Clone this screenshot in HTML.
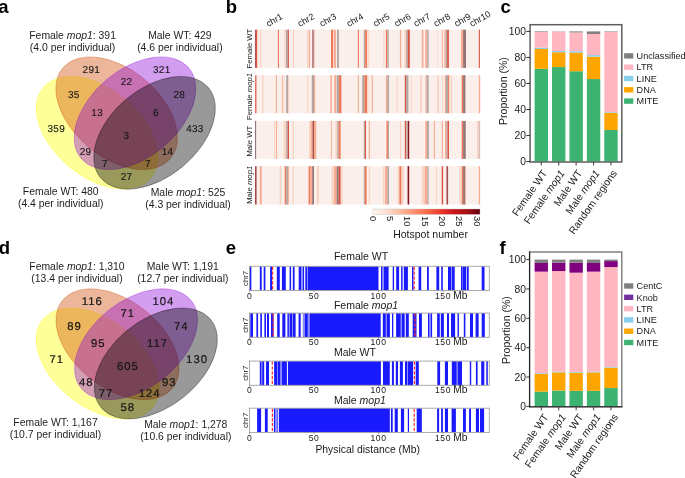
<!DOCTYPE html>
<html><head><meta charset="utf-8"><title>Figure</title>
<style>
html,body{margin:0;padding:0;background:#fff;width:685px;height:478px;overflow:hidden;}
svg{display:block;will-change:transform;font-family:"Liberation Sans",sans-serif;}
</style></head><body>
<svg width="685" height="478" viewBox="0 0 685 478">
<rect width="685" height="478" fill="#ffffff"/>
<g font-family='"Liberation Sans", sans-serif'>
<g transform="translate(28.70,210.90) scale(195.4,-195.3)">
<ellipse cx="0.35" cy="0.4" rx="0.36" ry="0.225" transform="rotate(140.0 0.35 0.4)" fill="#FFFF00" fill-opacity="0.4" stroke="#FFFF00" stroke-opacity="0.4" stroke-width="0.8" vector-effect="non-scaling-stroke"/>
<ellipse cx="0.45" cy="0.5" rx="0.36" ry="0.225" transform="rotate(140.0 0.45 0.5)" fill="#CD4800" fill-opacity="0.4" stroke="#CD4800" stroke-opacity="0.4" stroke-width="0.8" vector-effect="non-scaling-stroke"/>
<ellipse cx="0.544" cy="0.5" rx="0.36" ry="0.225" transform="rotate(40.0 0.544 0.5)" fill="#910AD9" fill-opacity="0.4" stroke="#910AD9" stroke-opacity="0.4" stroke-width="0.8" vector-effect="non-scaling-stroke"/>
<ellipse cx="0.644" cy="0.4" rx="0.36" ry="0.225" transform="rotate(40.0 0.644 0.4)" fill="#000000" fill-opacity="0.4" stroke="#000000" stroke-opacity="0.4" stroke-width="0.8" vector-effect="non-scaling-stroke"/>
</g>
<text x="91.38" y="72.98" font-size="10.0" text-anchor="middle" font-weight="normal" fill="#141414" letter-spacing="0.3" text-rendering="geometricPrecision" stroke="#141414" stroke-width="0.1">291</text>
<text x="161.72" y="72.98" font-size="10.0" text-anchor="middle" font-weight="normal" fill="#141414" letter-spacing="0.3" text-rendering="geometricPrecision" stroke="#141414" stroke-width="0.1">321</text>
<text x="126.55" y="84.70" font-size="10.0" text-anchor="middle" font-weight="normal" fill="#141414" letter-spacing="0.3" text-rendering="geometricPrecision" stroke="#141414" stroke-width="0.1">22</text>
<text x="73.79" y="98.37" font-size="10.0" text-anchor="middle" font-weight="normal" fill="#141414" letter-spacing="0.3" text-rendering="geometricPrecision" stroke="#141414" stroke-width="0.1">35</text>
<text x="179.31" y="98.37" font-size="10.0" text-anchor="middle" font-weight="normal" fill="#141414" letter-spacing="0.3" text-rendering="geometricPrecision" stroke="#141414" stroke-width="0.1">28</text>
<text x="97.24" y="115.95" font-size="10.0" text-anchor="middle" font-weight="normal" fill="#141414" letter-spacing="0.3" text-rendering="geometricPrecision" stroke="#141414" stroke-width="0.1">13</text>
<text x="155.86" y="115.95" font-size="10.0" text-anchor="middle" font-weight="normal" fill="#141414" letter-spacing="0.3" text-rendering="geometricPrecision" stroke="#141414" stroke-width="0.1">6</text>
<text x="56.21" y="131.57" font-size="10.0" text-anchor="middle" font-weight="normal" fill="#141414" letter-spacing="0.3" text-rendering="geometricPrecision" stroke="#141414" stroke-width="0.1">359</text>
<text x="194.94" y="131.57" font-size="10.0" text-anchor="middle" font-weight="normal" fill="#141414" letter-spacing="0.3" text-rendering="geometricPrecision" stroke="#141414" stroke-width="0.1">433</text>
<text x="126.55" y="139.39" font-size="10.0" text-anchor="middle" font-weight="normal" fill="#141414" letter-spacing="0.3" text-rendering="geometricPrecision" stroke="#141414" stroke-width="0.1">3</text>
<text x="85.52" y="155.01" font-size="10.0" text-anchor="middle" font-weight="normal" fill="#141414" letter-spacing="0.3" text-rendering="geometricPrecision" stroke="#141414" stroke-width="0.1">29</text>
<text x="167.58" y="155.01" font-size="10.0" text-anchor="middle" font-weight="normal" fill="#141414" letter-spacing="0.3" text-rendering="geometricPrecision" stroke="#141414" stroke-width="0.1">14</text>
<text x="105.06" y="166.73" font-size="10.0" text-anchor="middle" font-weight="normal" fill="#141414" letter-spacing="0.3" text-rendering="geometricPrecision" stroke="#141414" stroke-width="0.1">7</text>
<text x="148.04" y="166.73" font-size="10.0" text-anchor="middle" font-weight="normal" fill="#141414" letter-spacing="0.3" text-rendering="geometricPrecision" stroke="#141414" stroke-width="0.1">7</text>
<text x="126.55" y="180.40" font-size="10.0" text-anchor="middle" font-weight="normal" fill="#141414" letter-spacing="0.3" text-rendering="geometricPrecision" stroke="#141414" stroke-width="0.1">27</text>
<text x="72.60" y="39.30" font-size="10.4" text-anchor="middle" font-weight="normal" fill="#1e1e1e" >Female <tspan font-style="italic">mop1</tspan>: 391</text>
<text x="72.60" y="51.40" font-size="10.4" text-anchor="middle" font-weight="normal" fill="#1e1e1e" >(4.0 per individual)</text>
<text x="179.90" y="39.30" font-size="10.4" text-anchor="middle" font-weight="normal" fill="#1e1e1e" >Male WT: 429</text>
<text x="179.90" y="51.40" font-size="10.4" text-anchor="middle" font-weight="normal" fill="#1e1e1e" >(4.6 per individual)</text>
<text x="60.70" y="194.60" font-size="10.4" text-anchor="middle" font-weight="normal" fill="#1e1e1e" >Female WT: 480</text>
<text x="60.70" y="206.70" font-size="10.4" text-anchor="middle" font-weight="normal" fill="#1e1e1e" >(4.4 per individual)</text>
<text x="188.00" y="196.00" font-size="10.4" text-anchor="middle" font-weight="normal" fill="#1e1e1e" >Male <tspan font-style="italic">mop1</tspan>: 525</text>
<text x="188.00" y="208.10" font-size="10.4" text-anchor="middle" font-weight="normal" fill="#1e1e1e" >(4.3 per individual)</text>
<g transform="translate(28.50,440.30) scale(197.7,-192.1)">
<ellipse cx="0.35" cy="0.4" rx="0.36" ry="0.225" transform="rotate(140.0 0.35 0.4)" fill="#FFFF00" fill-opacity="0.4" stroke="#FFFF00" stroke-opacity="0.4" stroke-width="0.8" vector-effect="non-scaling-stroke"/>
<ellipse cx="0.45" cy="0.5" rx="0.36" ry="0.225" transform="rotate(140.0 0.45 0.5)" fill="#CD4800" fill-opacity="0.4" stroke="#CD4800" stroke-opacity="0.4" stroke-width="0.8" vector-effect="non-scaling-stroke"/>
<ellipse cx="0.544" cy="0.5" rx="0.36" ry="0.225" transform="rotate(40.0 0.544 0.5)" fill="#910AD9" fill-opacity="0.4" stroke="#910AD9" stroke-opacity="0.4" stroke-width="0.8" vector-effect="non-scaling-stroke"/>
<ellipse cx="0.644" cy="0.4" rx="0.36" ry="0.225" transform="rotate(40.0 0.644 0.4)" fill="#000000" fill-opacity="0.4" stroke="#000000" stroke-opacity="0.4" stroke-width="0.8" vector-effect="non-scaling-stroke"/>
</g>
<text x="92.26" y="305.14" font-size="11.3" text-anchor="middle" font-weight="normal" fill="#141414" letter-spacing="1.0" text-rendering="geometricPrecision" stroke="#141414" stroke-width="0.2">116</text>
<text x="163.44" y="305.14" font-size="11.3" text-anchor="middle" font-weight="normal" fill="#141414" letter-spacing="1.0" text-rendering="geometricPrecision" stroke="#141414" stroke-width="0.2">104</text>
<text x="127.85" y="316.66" font-size="11.3" text-anchor="middle" font-weight="normal" fill="#141414" letter-spacing="1.0" text-rendering="geometricPrecision" stroke="#141414" stroke-width="0.2">71</text>
<text x="74.47" y="330.11" font-size="11.3" text-anchor="middle" font-weight="normal" fill="#141414" letter-spacing="1.0" text-rendering="geometricPrecision" stroke="#141414" stroke-width="0.2">89</text>
<text x="181.23" y="330.11" font-size="11.3" text-anchor="middle" font-weight="normal" fill="#141414" letter-spacing="1.0" text-rendering="geometricPrecision" stroke="#141414" stroke-width="0.2">74</text>
<text x="98.19" y="347.40" font-size="11.3" text-anchor="middle" font-weight="normal" fill="#141414" letter-spacing="1.0" text-rendering="geometricPrecision" stroke="#141414" stroke-width="0.2">95</text>
<text x="157.50" y="347.40" font-size="11.3" text-anchor="middle" font-weight="normal" fill="#141414" letter-spacing="1.0" text-rendering="geometricPrecision" stroke="#141414" stroke-width="0.2">117</text>
<text x="56.68" y="362.77" font-size="11.3" text-anchor="middle" font-weight="normal" fill="#141414" letter-spacing="1.0" text-rendering="geometricPrecision" stroke="#141414" stroke-width="0.2">71</text>
<text x="197.04" y="362.77" font-size="11.3" text-anchor="middle" font-weight="normal" fill="#141414" letter-spacing="1.0" text-rendering="geometricPrecision" stroke="#141414" stroke-width="0.2">130</text>
<text x="127.85" y="370.45" font-size="11.3" text-anchor="middle" font-weight="normal" fill="#141414" letter-spacing="1.0" text-rendering="geometricPrecision" stroke="#141414" stroke-width="0.2">605</text>
<text x="86.33" y="385.82" font-size="11.3" text-anchor="middle" font-weight="normal" fill="#141414" letter-spacing="1.0" text-rendering="geometricPrecision" stroke="#141414" stroke-width="0.2">48</text>
<text x="169.37" y="385.82" font-size="11.3" text-anchor="middle" font-weight="normal" fill="#141414" letter-spacing="1.0" text-rendering="geometricPrecision" stroke="#141414" stroke-width="0.2">93</text>
<text x="106.10" y="397.35" font-size="11.3" text-anchor="middle" font-weight="normal" fill="#141414" letter-spacing="1.0" text-rendering="geometricPrecision" stroke="#141414" stroke-width="0.2">77</text>
<text x="149.60" y="397.35" font-size="11.3" text-anchor="middle" font-weight="normal" fill="#141414" letter-spacing="1.0" text-rendering="geometricPrecision" stroke="#141414" stroke-width="0.2">124</text>
<text x="127.85" y="410.79" font-size="11.3" text-anchor="middle" font-weight="normal" fill="#141414" letter-spacing="1.0" text-rendering="geometricPrecision" stroke="#141414" stroke-width="0.2">58</text>
<text x="77.00" y="269.60" font-size="10.4" text-anchor="middle" font-weight="normal" fill="#1e1e1e" >Female <tspan font-style="italic">mop1</tspan>: 1,310</text>
<text x="77.00" y="281.70" font-size="10.4" text-anchor="middle" font-weight="normal" fill="#1e1e1e" >(13.4 per individual)</text>
<text x="182.80" y="269.50" font-size="10.4" text-anchor="middle" font-weight="normal" fill="#1e1e1e" >Male WT: 1,191</text>
<text x="182.80" y="281.60" font-size="10.4" text-anchor="middle" font-weight="normal" fill="#1e1e1e" >(12.7 per individual)</text>
<text x="55.50" y="426.10" font-size="10.4" text-anchor="middle" font-weight="normal" fill="#1e1e1e" >Female WT: 1,167</text>
<text x="55.50" y="438.20" font-size="10.4" text-anchor="middle" font-weight="normal" fill="#1e1e1e" >(10.7 per individual)</text>
<text x="185.80" y="427.80" font-size="10.4" text-anchor="middle" font-weight="normal" fill="#1e1e1e" >Male <tspan font-style="italic">mop1</tspan>: 1,278</text>
<text x="185.80" y="439.90" font-size="10.4" text-anchor="middle" font-weight="normal" fill="#1e1e1e" >(10.6 per individual)</text>
<rect x="255.0" y="29.7" width="225.10" height="38.20" fill="#FAEFEA"/>
<rect x="255.1" y="29.7" width="0.90" height="38.20" fill="#A8484A"/>
<rect x="256" y="29.7" width="1.00" height="38.20" fill="#DA5446"/>
<rect x="257" y="29.7" width="1.30" height="38.20" fill="#F9D3C3"/>
<rect x="260.1" y="29.7" width="1.30" height="38.20" fill="#F9D3C3"/>
<rect x="277.9" y="29.7" width="1.10" height="38.20" fill="#EF7859"/>
<rect x="284.4" y="29.7" width="1.60" height="38.20" fill="#F9D3C3"/>
<rect x="286" y="29.7" width="1.80" height="38.20" fill="#B3A5A1"/>
<rect x="287.8" y="29.7" width="1.10" height="38.20" fill="#DA5446"/>
<rect x="292.9" y="29.7" width="1.20" height="38.20" fill="#F9D3C3"/>
<rect x="306.9" y="29.7" width="0.90" height="38.20" fill="#F9D3C3"/>
<rect x="308.7" y="29.7" width="1.30" height="38.20" fill="#F7AC92"/>
<rect x="312.2" y="29.7" width="1.30" height="38.20" fill="#957575"/>
<rect x="313.5" y="29.7" width="0.70" height="38.20" fill="#DA5446"/>
<rect x="331" y="29.7" width="2.00" height="38.20" fill="#EF7859"/>
<rect x="333.7" y="29.7" width="2.20" height="38.20" fill="#F7AC92"/>
<rect x="337" y="29.7" width="1.90" height="38.20" fill="#B3A5A1"/>
<rect x="357.8" y="29.7" width="1.10" height="38.20" fill="#EF7859"/>
<rect x="363.8" y="29.7" width="1.40" height="38.20" fill="#B3A5A1"/>
<rect x="365.2" y="29.7" width="1.90" height="38.20" fill="#EF7859"/>
<rect x="367.7" y="29.7" width="1.10" height="38.20" fill="#F9D3C3"/>
<rect x="383.5" y="29.7" width="0.90" height="38.20" fill="#F9D3C3"/>
<rect x="385.9" y="29.7" width="1.40" height="38.20" fill="#EF7859"/>
<rect x="387.3" y="29.7" width="1.40" height="38.20" fill="#B3A5A1"/>
<rect x="399.9" y="29.7" width="1.30" height="38.20" fill="#F7AC92"/>
<rect x="404.3" y="29.7" width="1.90" height="38.20" fill="#F9D3C3"/>
<rect x="406.2" y="29.7" width="1.60" height="38.20" fill="#B3A5A1"/>
<rect x="407.8" y="29.7" width="2.00" height="38.20" fill="#DA5446"/>
<rect x="421.8" y="29.7" width="1.60" height="38.20" fill="#F7AC92"/>
<rect x="425.3" y="29.7" width="2.00" height="38.20" fill="#F7AC92"/>
<rect x="427.3" y="29.7" width="1.30" height="38.20" fill="#B3A5A1"/>
<rect x="437" y="29.7" width="0.60" height="38.20" fill="#F9D3C3"/>
<rect x="441.9" y="29.7" width="0.90" height="38.20" fill="#F7AC92"/>
<rect x="444.4" y="29.7" width="1.30" height="38.20" fill="#F7AC92"/>
<rect x="445.7" y="29.7" width="1.40" height="38.20" fill="#B3A5A1"/>
<rect x="447.1" y="29.7" width="1.80" height="38.20" fill="#DA5446"/>
<rect x="461" y="29.7" width="2.10" height="38.20" fill="#F7AC92"/>
<rect x="463.1" y="29.7" width="2.90" height="38.20" fill="#957575"/>
<rect x="478.8" y="29.7" width="1.10" height="38.20" fill="#DA5446"/>
<rect x="255.0" y="75.2" width="225.10" height="38.00" fill="#FAEFEA"/>
<rect x="255.2" y="75.2" width="1.20" height="38.00" fill="#DA5446"/>
<rect x="262.1" y="75.2" width="1.40" height="38.00" fill="#F9D3C3"/>
<rect x="275.9" y="75.2" width="1.10" height="38.00" fill="#F7AC92"/>
<rect x="281.9" y="75.2" width="0.90" height="38.00" fill="#F7AC92"/>
<rect x="283.7" y="75.2" width="0.70" height="38.00" fill="#F9D3C3"/>
<rect x="286.2" y="75.2" width="2.10" height="38.00" fill="#B3A5A1"/>
<rect x="288.3" y="75.2" width="0.70" height="38.00" fill="#F9D3C3"/>
<rect x="307.2" y="75.2" width="1.10" height="38.00" fill="#F9D3C3"/>
<rect x="311.8" y="75.2" width="2.20" height="38.00" fill="#B3A5A1"/>
<rect x="314" y="75.2" width="1.10" height="38.00" fill="#F7AC92"/>
<rect x="330.4" y="75.2" width="1.50" height="38.00" fill="#F7AC92"/>
<rect x="334.3" y="75.2" width="1.90" height="38.00" fill="#F7AC92"/>
<rect x="336.7" y="75.2" width="2.20" height="38.00" fill="#B3A5A1"/>
<rect x="338.9" y="75.2" width="2.50" height="38.00" fill="#EF7859"/>
<rect x="357.8" y="75.2" width="1.10" height="38.00" fill="#F7AC92"/>
<rect x="362.2" y="75.2" width="2.20" height="38.00" fill="#B3A5A1"/>
<rect x="364.4" y="75.2" width="2.70" height="38.00" fill="#EF7859"/>
<rect x="367.1" y="75.2" width="1.40" height="38.00" fill="#F9D3C3"/>
<rect x="371.7" y="75.2" width="1.10" height="38.00" fill="#F7AC92"/>
<rect x="385.9" y="75.2" width="1.40" height="38.00" fill="#F7AC92"/>
<rect x="387.3" y="75.2" width="1.70" height="38.00" fill="#B3A5A1"/>
<rect x="396.6" y="75.2" width="1.10" height="38.00" fill="#F9D3C3"/>
<rect x="404.8" y="75.2" width="1.40" height="38.00" fill="#DA5446"/>
<rect x="406.2" y="75.2" width="2.20" height="38.00" fill="#B3A5A1"/>
<rect x="410.8" y="75.2" width="0.90" height="38.00" fill="#F9D3C3"/>
<rect x="420.2" y="75.2" width="1.60" height="38.00" fill="#F9D3C3"/>
<rect x="425.6" y="75.2" width="1.10" height="38.00" fill="#F7AC92"/>
<rect x="426.7" y="75.2" width="1.90" height="38.00" fill="#B3A5A1"/>
<rect x="437.1" y="75.2" width="1.70" height="38.00" fill="#F9D3C3"/>
<rect x="442" y="75.2" width="0.90" height="38.00" fill="#F9D3C3"/>
<rect x="444.8" y="75.2" width="1.10" height="38.00" fill="#F7AC92"/>
<rect x="445.9" y="75.2" width="2.20" height="38.00" fill="#B3A5A1"/>
<rect x="448.1" y="75.2" width="1.10" height="38.00" fill="#EF7859"/>
<rect x="450.7" y="75.2" width="1.40" height="38.00" fill="#F9D3C3"/>
<rect x="461.7" y="75.2" width="1.40" height="38.00" fill="#EF7859"/>
<rect x="463.1" y="75.2" width="2.30" height="38.00" fill="#957575"/>
<rect x="478.8" y="75.2" width="1.40" height="38.00" fill="#F7AC92"/>
<rect x="255.0" y="120.9" width="225.10" height="38.00" fill="#FAEFEA"/>
<rect x="255" y="120.9" width="1.10" height="38.00" fill="#957575"/>
<rect x="274.1" y="120.9" width="0.90" height="38.00" fill="#F9D3C3"/>
<rect x="275.9" y="120.9" width="1.10" height="38.00" fill="#F7AC92"/>
<rect x="283.7" y="120.9" width="2.50" height="38.00" fill="#F9D3C3"/>
<rect x="286.2" y="120.9" width="1.50" height="38.00" fill="#B3A5A1"/>
<rect x="287.7" y="120.9" width="1.30" height="38.00" fill="#DA5446"/>
<rect x="292.5" y="120.9" width="1.40" height="38.00" fill="#F9D3C3"/>
<rect x="309" y="120.9" width="1.90" height="38.00" fill="#F9D3C3"/>
<rect x="310.9" y="120.9" width="1.70" height="38.00" fill="#F7AC92"/>
<rect x="312.6" y="120.9" width="1.40" height="38.00" fill="#A8484A"/>
<rect x="314" y="120.9" width="2.20" height="38.00" fill="#F7AC92"/>
<rect x="331" y="120.9" width="0.90" height="38.00" fill="#F7AC92"/>
<rect x="335.4" y="120.9" width="1.90" height="38.00" fill="#F9D3C3"/>
<rect x="337.3" y="120.9" width="1.40" height="38.00" fill="#B3A5A1"/>
<rect x="338.7" y="120.9" width="1.90" height="38.00" fill="#EF7859"/>
<rect x="363.8" y="120.9" width="1.10" height="38.00" fill="#B3A5A1"/>
<rect x="364.9" y="120.9" width="1.10" height="38.00" fill="#DA5446"/>
<rect x="368.8" y="120.9" width="1.10" height="38.00" fill="#F7AC92"/>
<rect x="386.5" y="120.9" width="1.40" height="38.00" fill="#EF7859"/>
<rect x="387.9" y="120.9" width="1.10" height="38.00" fill="#B3A5A1"/>
<rect x="399.9" y="120.9" width="1.30" height="38.00" fill="#F9D3C3"/>
<rect x="404.8" y="120.9" width="1.40" height="38.00" fill="#DA5446"/>
<rect x="406.2" y="120.9" width="1.60" height="38.00" fill="#C8B4AE"/>
<rect x="407.8" y="120.9" width="1.40" height="38.00" fill="#861222"/>
<rect x="425.3" y="120.9" width="1.70" height="38.00" fill="#F7AC92"/>
<rect x="427" y="120.9" width="1.90" height="38.00" fill="#B3A5A1"/>
<rect x="433.8" y="120.9" width="1.10" height="38.00" fill="#F7AC92"/>
<rect x="441.7" y="120.9" width="1.20" height="38.00" fill="#F7AC92"/>
<rect x="445" y="120.9" width="1.40" height="38.00" fill="#F7AC92"/>
<rect x="446.4" y="120.9" width="1.10" height="38.00" fill="#B3A5A1"/>
<rect x="447.5" y="120.9" width="1.50" height="38.00" fill="#DA5446"/>
<rect x="461.7" y="120.9" width="1.40" height="38.00" fill="#EF7859"/>
<rect x="463.1" y="120.9" width="2.60" height="38.00" fill="#957575"/>
<rect x="476.9" y="120.9" width="2.30" height="38.00" fill="#F9D3C3"/>
<rect x="479.2" y="120.9" width="0.90" height="38.00" fill="#C8B4AE"/>
<rect x="255.0" y="166.2" width="225.10" height="38.30" fill="#FAEFEA"/>
<rect x="255" y="166.2" width="1.60" height="38.30" fill="#A8484A"/>
<rect x="259.8" y="166.2" width="1.90" height="38.30" fill="#F7AC92"/>
<rect x="279.6" y="166.2" width="1.80" height="38.30" fill="#F9D3C3"/>
<rect x="284.7" y="166.2" width="1.50" height="38.30" fill="#EF7859"/>
<rect x="286.2" y="166.2" width="1.90" height="38.30" fill="#B3A5A1"/>
<rect x="288.1" y="166.2" width="0.90" height="38.30" fill="#F7AC92"/>
<rect x="292.5" y="166.2" width="1.40" height="38.30" fill="#F9D3C3"/>
<rect x="308.6" y="166.2" width="1.60" height="38.30" fill="#EF7859"/>
<rect x="310.2" y="166.2" width="2.00" height="38.30" fill="#F7AC92"/>
<rect x="312.2" y="166.2" width="1.80" height="38.30" fill="#957575"/>
<rect x="316.8" y="166.2" width="2.20" height="38.30" fill="#F9D3C3"/>
<rect x="331.5" y="166.2" width="1.70" height="38.30" fill="#F9D3C3"/>
<rect x="333.7" y="166.2" width="3.00" height="38.30" fill="#F7AC92"/>
<rect x="336.7" y="166.2" width="2.00" height="38.30" fill="#957575"/>
<rect x="338.7" y="166.2" width="1.90" height="38.30" fill="#DA5446"/>
<rect x="341.4" y="166.2" width="1.40" height="38.30" fill="#F9D3C3"/>
<rect x="363.8" y="166.2" width="1.10" height="38.30" fill="#B3A5A1"/>
<rect x="364.9" y="166.2" width="1.70" height="38.30" fill="#EF7859"/>
<rect x="368.8" y="166.2" width="1.10" height="38.30" fill="#F9D3C3"/>
<rect x="382.9" y="166.2" width="1.10" height="38.30" fill="#F9D3C3"/>
<rect x="384.8" y="166.2" width="2.50" height="38.30" fill="#F7AC92"/>
<rect x="387.3" y="166.2" width="1.70" height="38.30" fill="#B3A5A1"/>
<rect x="397.7" y="166.2" width="1.70" height="38.30" fill="#F9D3C3"/>
<rect x="399.4" y="166.2" width="2.10" height="38.30" fill="#EF7859"/>
<rect x="401.5" y="166.2" width="2.20" height="38.30" fill="#F9D3C3"/>
<rect x="407.6" y="166.2" width="1.60" height="38.30" fill="#861222"/>
<rect x="421.8" y="166.2" width="2.20" height="38.30" fill="#F9D3C3"/>
<rect x="424.5" y="166.2" width="2.80" height="38.30" fill="#F7AC92"/>
<rect x="427.3" y="166.2" width="1.30" height="38.30" fill="#B3A5A1"/>
<rect x="436" y="166.2" width="1.10" height="38.30" fill="#F9D3C3"/>
<rect x="441.7" y="166.2" width="1.40" height="38.30" fill="#DA5446"/>
<rect x="446.1" y="166.2" width="0.60" height="38.30" fill="#B3A5A1"/>
<rect x="446.7" y="166.2" width="1.40" height="38.30" fill="#A8484A"/>
<rect x="459.4" y="166.2" width="1.40" height="38.30" fill="#F9D3C3"/>
<rect x="461.7" y="166.2" width="1.40" height="38.30" fill="#EF7859"/>
<rect x="463.1" y="166.2" width="2.10" height="38.30" fill="#957575"/>
<rect x="465.2" y="166.2" width="0.80" height="38.30" fill="#F7AC92"/>
<rect x="478.8" y="166.2" width="1.30" height="38.30" fill="#F7AC92"/>
<text transform="translate(252.2,48.55) rotate(-90)" font-size="7.7" text-anchor="middle" fill="#1a1a1a">Female WT</text>
<text transform="translate(252.2,96.50) rotate(-90)" font-size="7.7" text-anchor="middle" fill="#1a1a1a">Female <tspan font-style="italic">mop1</tspan></text>
<text transform="translate(252.2,141.20) rotate(-90)" font-size="7.7" text-anchor="middle" fill="#1a1a1a">Male WT</text>
<text transform="translate(252.2,184.85) rotate(-90)" font-size="7.7" text-anchor="middle" fill="#1a1a1a">Male <tspan font-style="italic">mop1</tspan></text>
<text transform="translate(268.2,27.0) rotate(-30)" font-size="9.0" fill="#1a1a1a">chr1</text>
<text transform="translate(299.8,27.0) rotate(-30)" font-size="9.0" fill="#1a1a1a">chr2</text>
<text transform="translate(321.8,27.0) rotate(-30)" font-size="9.0" fill="#1a1a1a">chr3</text>
<text transform="translate(348.8,27.0) rotate(-30)" font-size="9.0" fill="#1a1a1a">chr4</text>
<text transform="translate(375.2,27.0) rotate(-30)" font-size="9.0" fill="#1a1a1a">chr5</text>
<text transform="translate(396.40000000000003,27.0) rotate(-30)" font-size="9.0" fill="#1a1a1a">chr6</text>
<text transform="translate(415.8,27.0) rotate(-30)" font-size="9.0" fill="#1a1a1a">chr7</text>
<text transform="translate(435.8,27.0) rotate(-30)" font-size="9.0" fill="#1a1a1a">chr8</text>
<text transform="translate(456.40000000000003,27.0) rotate(-30)" font-size="9.0" fill="#1a1a1a">chr9</text>
<text transform="translate(471.8,27.0) rotate(-30)" font-size="9.0" fill="#1a1a1a">chr10</text>
<defs><linearGradient id="reds" x1="0" x2="1" y1="0" y2="0"><stop offset="0" stop-color="#FFF5F0"/><stop offset="0.125" stop-color="#FEE0D2"/><stop offset="0.25" stop-color="#FCBBA1"/><stop offset="0.375" stop-color="#FC9272"/><stop offset="0.5" stop-color="#FB6A4A"/><stop offset="0.625" stop-color="#EF3B2C"/><stop offset="0.75" stop-color="#CB181D"/><stop offset="0.875" stop-color="#A50F15"/><stop offset="1" stop-color="#67000D"/></linearGradient></defs>
<rect x="373" y="209" width="107" height="5.4" fill="url(#reds)" stroke="#bbbbbb" stroke-width="0.4"/>
<text transform="translate(369.60,216) rotate(90)" font-size="9.4" fill="#1a1a1a">0</text>
<text transform="translate(386.93,216) rotate(90)" font-size="9.4" fill="#1a1a1a">5</text>
<text transform="translate(404.27,216) rotate(90)" font-size="9.4" fill="#1a1a1a">10</text>
<text transform="translate(421.60,216) rotate(90)" font-size="9.4" fill="#1a1a1a">15</text>
<text transform="translate(438.93,216) rotate(90)" font-size="9.4" fill="#1a1a1a">20</text>
<text transform="translate(456.27,216) rotate(90)" font-size="9.4" fill="#1a1a1a">25</text>
<text transform="translate(473.60,216) rotate(90)" font-size="9.4" fill="#1a1a1a">30</text>
<text x="393.20" y="238.00" font-size="10.5" text-anchor="start" font-weight="normal" fill="#1a1a1a" >Hotspot number</text>
<rect x="534.60" y="68.77" width="13.4" height="92.83" fill="#3CB371"/>
<rect x="534.60" y="48.98" width="13.4" height="19.79" fill="#FFA500"/>
<rect x="534.60" y="47.68" width="13.4" height="1.30" fill="#87CEEB"/>
<rect x="534.60" y="32.05" width="13.4" height="15.62" fill="#FFB6C1"/>
<rect x="534.60" y="31.40" width="13.4" height="0.65" fill="#808080"/>
<rect x="552.02" y="67.07" width="13.4" height="94.53" fill="#3CB371"/>
<rect x="552.02" y="52.23" width="13.4" height="14.84" fill="#FFA500"/>
<rect x="552.02" y="50.93" width="13.4" height="1.30" fill="#87CEEB"/>
<rect x="552.02" y="31.66" width="13.4" height="19.27" fill="#FFB6C1"/>
<rect x="552.02" y="31.40" width="13.4" height="0.26" fill="#808080"/>
<rect x="569.44" y="71.24" width="13.4" height="90.36" fill="#3CB371"/>
<rect x="569.44" y="52.62" width="13.4" height="18.62" fill="#FFA500"/>
<rect x="569.44" y="51.19" width="13.4" height="1.43" fill="#87CEEB"/>
<rect x="569.44" y="32.44" width="13.4" height="18.75" fill="#FFB6C1"/>
<rect x="569.44" y="31.40" width="13.4" height="1.04" fill="#808080"/>
<rect x="586.86" y="79.05" width="13.4" height="82.55" fill="#3CB371"/>
<rect x="586.86" y="56.66" width="13.4" height="22.39" fill="#FFA500"/>
<rect x="586.86" y="55.10" width="13.4" height="1.56" fill="#87CEEB"/>
<rect x="586.86" y="34.00" width="13.4" height="21.09" fill="#FFB6C1"/>
<rect x="586.86" y="31.40" width="13.4" height="2.60" fill="#808080"/>
<rect x="604.28" y="129.96" width="13.4" height="31.64" fill="#3CB371"/>
<rect x="604.28" y="112.78" width="13.4" height="17.19" fill="#FFA500"/>
<rect x="604.28" y="112.12" width="13.4" height="0.65" fill="#87CEEB"/>
<rect x="604.28" y="31.92" width="13.4" height="80.20" fill="#FFB6C1"/>
<rect x="604.28" y="31.40" width="13.4" height="0.52" fill="#808080"/>
<rect x="530.1" y="24.70" width="91.7" height="137.30" fill="none" stroke="#5e5e5e" stroke-width="1.5"/>
<line x1="526.4" y1="161.60" x2="530" y2="161.60" stroke="#2a2a2a" stroke-width="1.0"/>
<text x="525.90" y="165.30" font-size="10.3" text-anchor="end" font-weight="normal" fill="#1a1a1a" >0</text>
<line x1="526.4" y1="135.56" x2="530" y2="135.56" stroke="#2a2a2a" stroke-width="1.0"/>
<text x="525.90" y="139.26" font-size="10.3" text-anchor="end" font-weight="normal" fill="#1a1a1a" >20</text>
<line x1="526.4" y1="109.52" x2="530" y2="109.52" stroke="#2a2a2a" stroke-width="1.0"/>
<text x="525.90" y="113.22" font-size="10.3" text-anchor="end" font-weight="normal" fill="#1a1a1a" >40</text>
<line x1="526.4" y1="83.48" x2="530" y2="83.48" stroke="#2a2a2a" stroke-width="1.0"/>
<text x="525.90" y="87.18" font-size="10.3" text-anchor="end" font-weight="normal" fill="#1a1a1a" >60</text>
<line x1="526.4" y1="57.44" x2="530" y2="57.44" stroke="#2a2a2a" stroke-width="1.0"/>
<text x="525.90" y="61.14" font-size="10.3" text-anchor="end" font-weight="normal" fill="#1a1a1a" >80</text>
<line x1="526.4" y1="31.40" x2="530" y2="31.40" stroke="#2a2a2a" stroke-width="1.0"/>
<text x="525.90" y="35.10" font-size="10.3" text-anchor="end" font-weight="normal" fill="#1a1a1a" >100</text>
<line x1="541.30" y1="162.00" x2="541.30" y2="165.40" stroke="#4d4d4d" stroke-width="1.1"/>
<line x1="558.72" y1="162.00" x2="558.72" y2="165.40" stroke="#4d4d4d" stroke-width="1.1"/>
<line x1="576.14" y1="162.00" x2="576.14" y2="165.40" stroke="#4d4d4d" stroke-width="1.1"/>
<line x1="593.56" y1="162.00" x2="593.56" y2="165.40" stroke="#4d4d4d" stroke-width="1.1"/>
<line x1="610.98" y1="162.00" x2="610.98" y2="165.40" stroke="#4d4d4d" stroke-width="1.1"/>
<text transform="translate(507.3,91.05) rotate(-90)" font-size="10.5" text-anchor="middle" fill="#1a1a1a">Proportion (%)</text>
<text transform="translate(547.70,173.20) rotate(-55)" font-size="10.3" text-anchor="end" fill="#1a1a1a">Female WT</text>
<text transform="translate(565.12,173.20) rotate(-55)" font-size="10.3" text-anchor="end" fill="#1a1a1a">Female <tspan font-style="italic">mop1</tspan></text>
<text transform="translate(582.54,173.20) rotate(-55)" font-size="10.3" text-anchor="end" fill="#1a1a1a">Male WT</text>
<text transform="translate(599.96,173.20) rotate(-55)" font-size="10.3" text-anchor="end" fill="#1a1a1a">Male <tspan font-style="italic">mop1</tspan></text>
<text transform="translate(617.38,173.20) rotate(-55)" font-size="10.3" text-anchor="end" fill="#1a1a1a">Random regions</text>
<rect x="624.1" y="53.20" width="9.2" height="5.4" fill="#808080"/>
<text x="636.60" y="59.10" font-size="9.1" text-anchor="start" font-weight="normal" fill="#1a1a1a" >Unclassified</text>
<rect x="624.1" y="64.50" width="9.2" height="5.4" fill="#FFB6C1"/>
<text x="636.60" y="70.40" font-size="9.1" text-anchor="start" font-weight="normal" fill="#1a1a1a" >LTR</text>
<rect x="624.1" y="75.80" width="9.2" height="5.4" fill="#87CEEB"/>
<text x="636.60" y="81.70" font-size="9.1" text-anchor="start" font-weight="normal" fill="#1a1a1a" >LINE</text>
<rect x="624.1" y="87.10" width="9.2" height="5.4" fill="#FFA500"/>
<text x="636.60" y="93.00" font-size="9.1" text-anchor="start" font-weight="normal" fill="#1a1a1a" >DNA</text>
<rect x="624.1" y="98.40" width="9.2" height="5.4" fill="#3CB371"/>
<text x="636.60" y="104.30" font-size="9.1" text-anchor="start" font-weight="normal" fill="#1a1a1a" >MITE</text>
<rect x="534.60" y="391.57" width="13.4" height="14.83" fill="#3CB371"/>
<rect x="534.60" y="373.96" width="13.4" height="17.62" fill="#FFA500"/>
<rect x="534.60" y="373.22" width="13.4" height="0.73" fill="#87CEEB"/>
<rect x="534.60" y="271.64" width="13.4" height="101.59" fill="#FFB6C1"/>
<rect x="534.60" y="262.98" width="13.4" height="8.66" fill="#800080"/>
<rect x="534.60" y="259.60" width="13.4" height="3.38" fill="#808080"/>
<rect x="552.02" y="390.55" width="13.4" height="15.85" fill="#3CB371"/>
<rect x="552.02" y="372.34" width="13.4" height="18.20" fill="#FFA500"/>
<rect x="552.02" y="371.61" width="13.4" height="0.73" fill="#87CEEB"/>
<rect x="552.02" y="271.05" width="13.4" height="100.56" fill="#FFB6C1"/>
<rect x="552.02" y="262.68" width="13.4" height="8.37" fill="#800080"/>
<rect x="552.02" y="259.60" width="13.4" height="3.08" fill="#808080"/>
<rect x="569.44" y="390.84" width="13.4" height="15.56" fill="#3CB371"/>
<rect x="569.44" y="372.64" width="13.4" height="18.20" fill="#FFA500"/>
<rect x="569.44" y="371.90" width="13.4" height="0.73" fill="#87CEEB"/>
<rect x="569.44" y="272.67" width="13.4" height="99.24" fill="#FFB6C1"/>
<rect x="569.44" y="262.83" width="13.4" height="9.84" fill="#800080"/>
<rect x="569.44" y="259.60" width="13.4" height="3.23" fill="#808080"/>
<rect x="586.86" y="390.84" width="13.4" height="15.56" fill="#3CB371"/>
<rect x="586.86" y="372.34" width="13.4" height="18.50" fill="#FFA500"/>
<rect x="586.86" y="371.61" width="13.4" height="0.73" fill="#87CEEB"/>
<rect x="586.86" y="271.64" width="13.4" height="99.97" fill="#FFB6C1"/>
<rect x="586.86" y="262.98" width="13.4" height="8.66" fill="#800080"/>
<rect x="586.86" y="259.60" width="13.4" height="3.38" fill="#808080"/>
<rect x="604.28" y="388.05" width="13.4" height="18.35" fill="#3CB371"/>
<rect x="604.28" y="367.64" width="13.4" height="20.41" fill="#FFA500"/>
<rect x="604.28" y="366.91" width="13.4" height="0.73" fill="#87CEEB"/>
<rect x="604.28" y="267.09" width="13.4" height="99.82" fill="#FFB6C1"/>
<rect x="604.28" y="261.07" width="13.4" height="6.02" fill="#800080"/>
<rect x="604.28" y="259.60" width="13.4" height="1.47" fill="#808080"/>
<rect x="529.6" y="252.00" width="92.2" height="154.80" fill="none" stroke="#7a7a7a" stroke-width="1.4"/>
<line x1="529.6" y1="251.30" x2="529.6" y2="407.30" stroke="#1e1e1e" stroke-width="1.0"/>
<line x1="529.1" y1="406.80" x2="622.5" y2="406.80" stroke="#1e1e1e" stroke-width="1.0"/>
<line x1="526.4" y1="406.40" x2="530" y2="406.40" stroke="#2a2a2a" stroke-width="1.0"/>
<text x="525.90" y="410.10" font-size="10.3" text-anchor="end" font-weight="normal" fill="#1a1a1a" >0</text>
<line x1="526.4" y1="377.04" x2="530" y2="377.04" stroke="#2a2a2a" stroke-width="1.0"/>
<text x="525.90" y="380.74" font-size="10.3" text-anchor="end" font-weight="normal" fill="#1a1a1a" >20</text>
<line x1="526.4" y1="347.68" x2="530" y2="347.68" stroke="#2a2a2a" stroke-width="1.0"/>
<text x="525.90" y="351.38" font-size="10.3" text-anchor="end" font-weight="normal" fill="#1a1a1a" >40</text>
<line x1="526.4" y1="318.32" x2="530" y2="318.32" stroke="#2a2a2a" stroke-width="1.0"/>
<text x="525.90" y="322.02" font-size="10.3" text-anchor="end" font-weight="normal" fill="#1a1a1a" >60</text>
<line x1="526.4" y1="288.96" x2="530" y2="288.96" stroke="#2a2a2a" stroke-width="1.0"/>
<text x="525.90" y="292.66" font-size="10.3" text-anchor="end" font-weight="normal" fill="#1a1a1a" >80</text>
<line x1="526.4" y1="259.60" x2="530" y2="259.60" stroke="#2a2a2a" stroke-width="1.0"/>
<text x="525.90" y="263.30" font-size="10.3" text-anchor="end" font-weight="normal" fill="#1a1a1a" >100</text>
<line x1="541.30" y1="406.80" x2="541.30" y2="410.20" stroke="#4d4d4d" stroke-width="1.1"/>
<line x1="558.72" y1="406.80" x2="558.72" y2="410.20" stroke="#4d4d4d" stroke-width="1.1"/>
<line x1="576.14" y1="406.80" x2="576.14" y2="410.20" stroke="#4d4d4d" stroke-width="1.1"/>
<line x1="593.56" y1="406.80" x2="593.56" y2="410.20" stroke="#4d4d4d" stroke-width="1.1"/>
<line x1="610.98" y1="406.80" x2="610.98" y2="410.20" stroke="#4d4d4d" stroke-width="1.1"/>
<text transform="translate(509.6,330.10) rotate(-90)" font-size="10.5" text-anchor="middle" fill="#1a1a1a">Proportion (%)</text>
<text transform="translate(548.80,417.00) rotate(-55)" font-size="10.3" text-anchor="end" fill="#1a1a1a">Female WT</text>
<text transform="translate(566.22,417.00) rotate(-55)" font-size="10.3" text-anchor="end" fill="#1a1a1a">Female <tspan font-style="italic">mop1</tspan></text>
<text transform="translate(583.64,417.00) rotate(-55)" font-size="10.3" text-anchor="end" fill="#1a1a1a">Male WT</text>
<text transform="translate(601.06,417.00) rotate(-55)" font-size="10.3" text-anchor="end" fill="#1a1a1a">Male <tspan font-style="italic">mop1</tspan></text>
<text transform="translate(618.48,417.00) rotate(-55)" font-size="10.3" text-anchor="end" fill="#1a1a1a">Random regions</text>
<rect x="624.1" y="283.30" width="9.2" height="5.4" fill="#808080"/>
<text x="636.60" y="289.20" font-size="9.1" text-anchor="start" font-weight="normal" fill="#1a1a1a" >CentC</text>
<rect x="624.1" y="294.60" width="9.2" height="5.4" fill="#7030A0"/>
<text x="636.60" y="300.50" font-size="9.1" text-anchor="start" font-weight="normal" fill="#1a1a1a" >Knob</text>
<rect x="624.1" y="305.90" width="9.2" height="5.4" fill="#FFB6C1"/>
<text x="636.60" y="311.80" font-size="9.1" text-anchor="start" font-weight="normal" fill="#1a1a1a" >LTR</text>
<rect x="624.1" y="317.20" width="9.2" height="5.4" fill="#87CEEB"/>
<text x="636.60" y="323.10" font-size="9.1" text-anchor="start" font-weight="normal" fill="#1a1a1a" >LINE</text>
<rect x="624.1" y="328.50" width="9.2" height="5.4" fill="#FFA500"/>
<text x="636.60" y="334.40" font-size="9.1" text-anchor="start" font-weight="normal" fill="#1a1a1a" >DNA</text>
<rect x="624.1" y="339.80" width="9.2" height="5.4" fill="#3CB371"/>
<text x="636.60" y="345.70" font-size="9.1" text-anchor="start" font-weight="normal" fill="#1a1a1a" >MITE</text>
<rect x="249.5" y="266.3" width="239.80" height="24.2" fill="#ffffff"/>
<rect x="249.7" y="266.3" width="1.65" height="24.2" fill="#1A1AFF" fill-opacity="1"/>
<rect x="259.85" y="266.3" width="1.85" height="24.2" fill="#1A1AFF" fill-opacity="1"/>
<rect x="263.7" y="266.3" width="1.70" height="24.2" fill="#1A1AFF" fill-opacity="1"/>
<rect x="270.1" y="266.3" width="2.00" height="24.2" fill="#1A1AFF" fill-opacity="1"/>
<rect x="276.8" y="266.3" width="3.00" height="24.2" fill="#1A1AFF" fill-opacity="1"/>
<rect x="281.9" y="266.3" width="3.90" height="24.2" fill="#1A1AFF" fill-opacity="1"/>
<rect x="289.6" y="266.3" width="1.50" height="24.2" fill="#1A1AFF" fill-opacity="1"/>
<rect x="292.8" y="266.3" width="1.80" height="24.2" fill="#1A1AFF" fill-opacity="1"/>
<rect x="298.7" y="266.3" width="2.30" height="24.2" fill="#1A1AFF" fill-opacity="1"/>
<rect x="301" y="266.3" width="2.00" height="24.2" fill="#1A1AFF" fill-opacity="0.5"/>
<rect x="303" y="266.3" width="1.10" height="24.2" fill="#1A1AFF" fill-opacity="1"/>
<rect x="305.3" y="266.3" width="1.80" height="24.2" fill="#1A1AFF" fill-opacity="1"/>
<rect x="307.1" y="266.3" width="0.90" height="24.2" fill="#1A1AFF" fill-opacity="0.5"/>
<rect x="308" y="266.3" width="70.50" height="24.2" fill="#1A1AFF" fill-opacity="1"/>
<rect x="381" y="266.3" width="1.20" height="24.2" fill="#1A1AFF" fill-opacity="1"/>
<rect x="382.2" y="266.3" width="1.80" height="24.2" fill="#1A1AFF" fill-opacity="0.5"/>
<rect x="384" y="266.3" width="4.60" height="24.2" fill="#1A1AFF" fill-opacity="1"/>
<rect x="392.7" y="266.3" width="1.40" height="24.2" fill="#1A1AFF" fill-opacity="1"/>
<rect x="396.2" y="266.3" width="2.90" height="24.2" fill="#1A1AFF" fill-opacity="1"/>
<rect x="401.1" y="266.3" width="1.50" height="24.2" fill="#1A1AFF" fill-opacity="1"/>
<rect x="403.8" y="266.3" width="4.10" height="24.2" fill="#1A1AFF" fill-opacity="1"/>
<rect x="412" y="266.3" width="1.50" height="24.2" fill="#1A1AFF" fill-opacity="1"/>
<rect x="418.6" y="266.3" width="2.60" height="24.2" fill="#1A1AFF" fill-opacity="1"/>
<rect x="427" y="266.3" width="1.80" height="24.2" fill="#1A1AFF" fill-opacity="1"/>
<rect x="436.4" y="266.3" width="2.80" height="24.2" fill="#1A1AFF" fill-opacity="1"/>
<rect x="441.2" y="266.3" width="1.60" height="24.2" fill="#1A1AFF" fill-opacity="1"/>
<rect x="448" y="266.3" width="3.10" height="24.2" fill="#1A1AFF" fill-opacity="1"/>
<rect x="451.6" y="266.3" width="3.10" height="24.2" fill="#1A1AFF" fill-opacity="1"/>
<rect x="461" y="266.3" width="1.50" height="24.2" fill="#1A1AFF" fill-opacity="1"/>
<rect x="462.7" y="266.3" width="3.40" height="24.2" fill="#1A1AFF" fill-opacity="1"/>
<rect x="466.8" y="266.3" width="1.90" height="24.2" fill="#1A1AFF" fill-opacity="1"/>
<rect x="481.7" y="266.3" width="2.80" height="24.2" fill="#1A1AFF" fill-opacity="1"/>
<line x1="272.6" y1="266.80" x2="272.6" y2="290.00" stroke="#FF2A2A" stroke-width="1.2" stroke-dasharray="3.2,1.6"/>
<line x1="414.2" y1="266.80" x2="414.2" y2="290.00" stroke="#FF2A2A" stroke-width="1.2" stroke-dasharray="3.2,1.6"/>
<rect x="249.5" y="266.3" width="239.80" height="24.2" fill="none" stroke="#a0a0a0" stroke-width="0.9"/>
<text transform="translate(248.4,278.40) rotate(-90)" font-size="7.8" text-anchor="middle" fill="#1a1a1a">chr7</text>
<text x="333.90" y="259.60" font-size="10.5" text-anchor="start" font-weight="normal" fill="#1a1a1a" >Female WT</text>
<line x1="249.60" y1="290.50" x2="249.60" y2="292.00" stroke="#555" stroke-width="0.6"/>
<text x="249.60" y="299.00" font-size="8.6" text-anchor="middle" font-weight="normal" fill="#222" letter-spacing="0.5">0</text>
<line x1="314.06" y1="290.50" x2="314.06" y2="292.00" stroke="#555" stroke-width="0.6"/>
<text x="314.06" y="299.00" font-size="8.6" text-anchor="middle" font-weight="normal" fill="#222" letter-spacing="0.5">50</text>
<line x1="378.53" y1="290.50" x2="378.53" y2="292.00" stroke="#555" stroke-width="0.6"/>
<text x="378.53" y="299.00" font-size="8.6" text-anchor="middle" font-weight="normal" fill="#222" letter-spacing="0.5">100</text>
<line x1="443.00" y1="290.50" x2="443.00" y2="292.00" stroke="#555" stroke-width="0.6"/>
<text x="443.00" y="299.00" font-size="8.6" text-anchor="middle" font-weight="normal" fill="#222" letter-spacing="0.5">150</text>
<text x="453.30" y="299.00" font-size="10.2" text-anchor="start" font-weight="normal" fill="#1a1a1a" >Mb</text>
<rect x="249.5" y="313.1" width="239.80" height="24.2" fill="#ffffff"/>
<rect x="250.3" y="313.1" width="2.70" height="24.2" fill="#1A1AFF" fill-opacity="1"/>
<rect x="256.4" y="313.1" width="1.70" height="24.2" fill="#1A1AFF" fill-opacity="1"/>
<rect x="260.3" y="313.1" width="1.60" height="24.2" fill="#1A1AFF" fill-opacity="1"/>
<rect x="264.4" y="313.1" width="1.60" height="24.2" fill="#1A1AFF" fill-opacity="1"/>
<rect x="267" y="313.1" width="2.00" height="24.2" fill="#1A1AFF" fill-opacity="1"/>
<rect x="271" y="313.1" width="2.60" height="24.2" fill="#1A1AFF" fill-opacity="1"/>
<rect x="277.2" y="313.1" width="2.50" height="24.2" fill="#1A1AFF" fill-opacity="1"/>
<rect x="282.3" y="313.1" width="3.10" height="24.2" fill="#1A1AFF" fill-opacity="1"/>
<rect x="287.4" y="313.1" width="1.50" height="24.2" fill="#1A1AFF" fill-opacity="1"/>
<rect x="288.9" y="313.1" width="1.10" height="24.2" fill="#1A1AFF" fill-opacity="0.5"/>
<rect x="290" y="313.1" width="2.00" height="24.2" fill="#1A1AFF" fill-opacity="1"/>
<rect x="292.5" y="313.1" width="3.10" height="24.2" fill="#1A1AFF" fill-opacity="1"/>
<rect x="298.6" y="313.1" width="2.10" height="24.2" fill="#1A1AFF" fill-opacity="1"/>
<rect x="302.7" y="313.1" width="2.10" height="24.2" fill="#1A1AFF" fill-opacity="0.5"/>
<rect x="304.8" y="313.1" width="3.00" height="24.2" fill="#1A1AFF" fill-opacity="1"/>
<rect x="307.8" y="313.1" width="1.80" height="24.2" fill="#1A1AFF" fill-opacity="0.5"/>
<rect x="309.6" y="313.1" width="71.10" height="24.2" fill="#1A1AFF" fill-opacity="1"/>
<rect x="382.8" y="313.1" width="3.00" height="24.2" fill="#1A1AFF" fill-opacity="1"/>
<rect x="385.8" y="313.1" width="1.10" height="24.2" fill="#1A1AFF" fill-opacity="0.5"/>
<rect x="386.9" y="313.1" width="3.00" height="24.2" fill="#1A1AFF" fill-opacity="1"/>
<rect x="392" y="313.1" width="1.30" height="24.2" fill="#1A1AFF" fill-opacity="1"/>
<rect x="396.1" y="313.1" width="4.60" height="24.2" fill="#1A1AFF" fill-opacity="1"/>
<rect x="400.7" y="313.1" width="1.20" height="24.2" fill="#1A1AFF" fill-opacity="0.5"/>
<rect x="401.9" y="313.1" width="2.80" height="24.2" fill="#1A1AFF" fill-opacity="1"/>
<rect x="405.8" y="313.1" width="3.00" height="24.2" fill="#1A1AFF" fill-opacity="1"/>
<rect x="412.7" y="313.1" width="3.80" height="24.2" fill="#1A1AFF" fill-opacity="1"/>
<rect x="419" y="313.1" width="2.90" height="24.2" fill="#1A1AFF" fill-opacity="1"/>
<rect x="428" y="313.1" width="1.30" height="24.2" fill="#1A1AFF" fill-opacity="1"/>
<rect x="429.3" y="313.1" width="1.50" height="24.2" fill="#1A1AFF" fill-opacity="0.5"/>
<rect x="430.8" y="313.1" width="1.30" height="24.2" fill="#1A1AFF" fill-opacity="1"/>
<rect x="437.1" y="313.1" width="2.70" height="24.2" fill="#1A1AFF" fill-opacity="1"/>
<rect x="440.8" y="313.1" width="3.10" height="24.2" fill="#1A1AFF" fill-opacity="1"/>
<rect x="447" y="313.1" width="2.00" height="24.2" fill="#1A1AFF" fill-opacity="1"/>
<rect x="451" y="313.1" width="4.10" height="24.2" fill="#1A1AFF" fill-opacity="1"/>
<rect x="457.5" y="313.1" width="1.40" height="24.2" fill="#1A1AFF" fill-opacity="1"/>
<rect x="463.8" y="313.1" width="1.60" height="24.2" fill="#1A1AFF" fill-opacity="1"/>
<rect x="470" y="313.1" width="3.00" height="24.2" fill="#1A1AFF" fill-opacity="1"/>
<rect x="475.6" y="313.1" width="3.00" height="24.2" fill="#1A1AFF" fill-opacity="1"/>
<rect x="481.7" y="313.1" width="3.10" height="24.2" fill="#1A1AFF" fill-opacity="1"/>
<line x1="273.1" y1="313.60" x2="273.1" y2="336.80" stroke="#FF2A2A" stroke-width="1.2" stroke-dasharray="3.2,1.6"/>
<line x1="415.0" y1="313.60" x2="415.0" y2="336.80" stroke="#FF2A2A" stroke-width="1.2" stroke-dasharray="3.2,1.6"/>
<rect x="249.5" y="313.1" width="239.80" height="24.2" fill="none" stroke="#a0a0a0" stroke-width="0.9"/>
<text transform="translate(248.4,325.20) rotate(-90)" font-size="7.8" text-anchor="middle" fill="#1a1a1a">chr7</text>
<text x="333.90" y="308.90" font-size="10.5" text-anchor="start" font-weight="normal" fill="#1a1a1a" >Female <tspan font-style="italic">mop1</tspan></text>
<line x1="249.60" y1="337.30" x2="249.60" y2="338.80" stroke="#555" stroke-width="0.6"/>
<text x="249.60" y="345.00" font-size="8.6" text-anchor="middle" font-weight="normal" fill="#222" letter-spacing="0.5">0</text>
<line x1="314.06" y1="337.30" x2="314.06" y2="338.80" stroke="#555" stroke-width="0.6"/>
<text x="314.06" y="345.00" font-size="8.6" text-anchor="middle" font-weight="normal" fill="#222" letter-spacing="0.5">50</text>
<line x1="378.53" y1="337.30" x2="378.53" y2="338.80" stroke="#555" stroke-width="0.6"/>
<text x="378.53" y="345.00" font-size="8.6" text-anchor="middle" font-weight="normal" fill="#222" letter-spacing="0.5">100</text>
<line x1="443.00" y1="337.30" x2="443.00" y2="338.80" stroke="#555" stroke-width="0.6"/>
<text x="443.00" y="345.00" font-size="8.6" text-anchor="middle" font-weight="normal" fill="#222" letter-spacing="0.5">150</text>
<text x="453.30" y="345.00" font-size="10.2" text-anchor="start" font-weight="normal" fill="#1a1a1a" >Mb</text>
<rect x="249.5" y="361.1" width="239.80" height="24.2" fill="#ffffff"/>
<rect x="259.8" y="361.1" width="1.60" height="24.2" fill="#1A1AFF" fill-opacity="1"/>
<rect x="261.4" y="361.1" width="0.80" height="24.2" fill="#1A1AFF" fill-opacity="0.5"/>
<rect x="262.2" y="361.1" width="2.00" height="24.2" fill="#1A1AFF" fill-opacity="1"/>
<rect x="266" y="361.1" width="3.00" height="24.2" fill="#1A1AFF" fill-opacity="1"/>
<rect x="274.1" y="361.1" width="3.10" height="24.2" fill="#1A1AFF" fill-opacity="1"/>
<rect x="277.2" y="361.1" width="0.70" height="24.2" fill="#1A1AFF" fill-opacity="0.5"/>
<rect x="277.9" y="361.1" width="2.40" height="24.2" fill="#1A1AFF" fill-opacity="1"/>
<rect x="280.3" y="361.1" width="1.70" height="24.2" fill="#1A1AFF" fill-opacity="0.5"/>
<rect x="282" y="361.1" width="4.90" height="24.2" fill="#1A1AFF" fill-opacity="1"/>
<rect x="287.9" y="361.1" width="93.00" height="24.2" fill="#1A1AFF" fill-opacity="1"/>
<rect x="383" y="361.1" width="6.80" height="24.2" fill="#1A1AFF" fill-opacity="1"/>
<rect x="391.9" y="361.1" width="2.00" height="24.2" fill="#1A1AFF" fill-opacity="1"/>
<rect x="395.8" y="361.1" width="2.20" height="24.2" fill="#1A1AFF" fill-opacity="1"/>
<rect x="399.9" y="361.1" width="3.00" height="24.2" fill="#1A1AFF" fill-opacity="1"/>
<rect x="405" y="361.1" width="2.00" height="24.2" fill="#1A1AFF" fill-opacity="1"/>
<rect x="407" y="361.1" width="1.00" height="24.2" fill="#1A1AFF" fill-opacity="0.5"/>
<rect x="408" y="361.1" width="5.10" height="24.2" fill="#1A1AFF" fill-opacity="1"/>
<rect x="415.7" y="361.1" width="3.10" height="24.2" fill="#1A1AFF" fill-opacity="1"/>
<rect x="437.3" y="361.1" width="2.80" height="24.2" fill="#1A1AFF" fill-opacity="1"/>
<rect x="444.9" y="361.1" width="3.10" height="24.2" fill="#1A1AFF" fill-opacity="1"/>
<rect x="451.8" y="361.1" width="4.90" height="24.2" fill="#1A1AFF" fill-opacity="1"/>
<rect x="456.7" y="361.1" width="1.00" height="24.2" fill="#1A1AFF" fill-opacity="0.5"/>
<rect x="457.7" y="361.1" width="4.30" height="24.2" fill="#1A1AFF" fill-opacity="1"/>
<rect x="469.8" y="361.1" width="1.40" height="24.2" fill="#1A1AFF" fill-opacity="1"/>
<rect x="475.9" y="361.1" width="1.70" height="24.2" fill="#1A1AFF" fill-opacity="1"/>
<rect x="481.2" y="361.1" width="3.10" height="24.2" fill="#1A1AFF" fill-opacity="1"/>
<rect x="486.3" y="361.1" width="1.50" height="24.2" fill="#1A1AFF" fill-opacity="1"/>
<line x1="272.3" y1="361.60" x2="272.3" y2="384.80" stroke="#FF2A2A" stroke-width="1.2" stroke-dasharray="3.2,1.6"/>
<line x1="414.4" y1="361.60" x2="414.4" y2="384.80" stroke="#FF2A2A" stroke-width="1.2" stroke-dasharray="3.2,1.6"/>
<rect x="249.5" y="361.1" width="239.80" height="24.2" fill="none" stroke="#a0a0a0" stroke-width="0.9"/>
<text transform="translate(248.4,373.20) rotate(-90)" font-size="7.8" text-anchor="middle" fill="#1a1a1a">chr7</text>
<text x="333.90" y="356.40" font-size="10.5" text-anchor="start" font-weight="normal" fill="#1a1a1a" >Male WT</text>
<line x1="249.60" y1="385.30" x2="249.60" y2="386.80" stroke="#555" stroke-width="0.6"/>
<text x="249.60" y="393.40" font-size="8.6" text-anchor="middle" font-weight="normal" fill="#222" letter-spacing="0.5">0</text>
<line x1="314.06" y1="385.30" x2="314.06" y2="386.80" stroke="#555" stroke-width="0.6"/>
<text x="314.06" y="393.40" font-size="8.6" text-anchor="middle" font-weight="normal" fill="#222" letter-spacing="0.5">50</text>
<line x1="378.53" y1="385.30" x2="378.53" y2="386.80" stroke="#555" stroke-width="0.6"/>
<text x="378.53" y="393.40" font-size="8.6" text-anchor="middle" font-weight="normal" fill="#222" letter-spacing="0.5">100</text>
<line x1="443.00" y1="385.30" x2="443.00" y2="386.80" stroke="#555" stroke-width="0.6"/>
<text x="443.00" y="393.40" font-size="8.6" text-anchor="middle" font-weight="normal" fill="#222" letter-spacing="0.5">150</text>
<text x="453.30" y="393.40" font-size="10.2" text-anchor="start" font-weight="normal" fill="#1a1a1a" >Mb</text>
<rect x="249.5" y="408.2" width="239.80" height="24.2" fill="#ffffff"/>
<rect x="257.1" y="408.2" width="4.00" height="24.2" fill="#1A1AFF" fill-opacity="1"/>
<rect x="264.9" y="408.2" width="2.80" height="24.2" fill="#1A1AFF" fill-opacity="1"/>
<rect x="273.9" y="408.2" width="1.20" height="24.2" fill="#1A1AFF" fill-opacity="1"/>
<rect x="275.1" y="408.2" width="2.40" height="24.2" fill="#1A1AFF" fill-opacity="0.5"/>
<rect x="277.5" y="408.2" width="0.70" height="24.2" fill="#1A1AFF" fill-opacity="1"/>
<rect x="279" y="408.2" width="110.80" height="24.2" fill="#1A1AFF" fill-opacity="1"/>
<rect x="390.9" y="408.2" width="1.80" height="24.2" fill="#1A1AFF" fill-opacity="1"/>
<rect x="394.7" y="408.2" width="3.10" height="24.2" fill="#1A1AFF" fill-opacity="1"/>
<rect x="400.9" y="408.2" width="3.20" height="24.2" fill="#1A1AFF" fill-opacity="1"/>
<rect x="407.8" y="408.2" width="1.20" height="24.2" fill="#1A1AFF" fill-opacity="1"/>
<rect x="416.7" y="408.2" width="5.10" height="24.2" fill="#1A1AFF" fill-opacity="1"/>
<rect x="437.1" y="408.2" width="2.00" height="24.2" fill="#1A1AFF" fill-opacity="1"/>
<rect x="441.1" y="408.2" width="1.80" height="24.2" fill="#1A1AFF" fill-opacity="1"/>
<rect x="444.9" y="408.2" width="3.10" height="24.2" fill="#1A1AFF" fill-opacity="1"/>
<rect x="451.6" y="408.2" width="4.30" height="24.2" fill="#1A1AFF" fill-opacity="1"/>
<rect x="463" y="408.2" width="2.90" height="24.2" fill="#1A1AFF" fill-opacity="1"/>
<rect x="469.1" y="408.2" width="1.90" height="24.2" fill="#1A1AFF" fill-opacity="1"/>
<rect x="475.9" y="408.2" width="3.10" height="24.2" fill="#1A1AFF" fill-opacity="1"/>
<rect x="480" y="408.2" width="4.10" height="24.2" fill="#1A1AFF" fill-opacity="1"/>
<line x1="272.4" y1="408.70" x2="272.4" y2="431.90" stroke="#FF2A2A" stroke-width="1.2" stroke-dasharray="3.2,1.6"/>
<line x1="414.2" y1="408.70" x2="414.2" y2="431.90" stroke="#FF2A2A" stroke-width="1.2" stroke-dasharray="3.2,1.6"/>
<rect x="249.5" y="408.2" width="239.80" height="24.2" fill="none" stroke="#a0a0a0" stroke-width="0.9"/>
<text transform="translate(248.4,420.30) rotate(-90)" font-size="7.8" text-anchor="middle" fill="#1a1a1a">chr7</text>
<text x="333.90" y="404.00" font-size="10.5" text-anchor="start" font-weight="normal" fill="#1a1a1a" >Male <tspan font-style="italic">mop1</tspan></text>
<line x1="249.60" y1="432.40" x2="249.60" y2="433.90" stroke="#555" stroke-width="0.6"/>
<text x="249.60" y="440.60" font-size="8.6" text-anchor="middle" font-weight="normal" fill="#222" letter-spacing="0.5">0</text>
<line x1="314.06" y1="432.40" x2="314.06" y2="433.90" stroke="#555" stroke-width="0.6"/>
<text x="314.06" y="440.60" font-size="8.6" text-anchor="middle" font-weight="normal" fill="#222" letter-spacing="0.5">50</text>
<line x1="378.53" y1="432.40" x2="378.53" y2="433.90" stroke="#555" stroke-width="0.6"/>
<text x="378.53" y="440.60" font-size="8.6" text-anchor="middle" font-weight="normal" fill="#222" letter-spacing="0.5">100</text>
<line x1="443.00" y1="432.40" x2="443.00" y2="433.90" stroke="#555" stroke-width="0.6"/>
<text x="443.00" y="440.60" font-size="8.6" text-anchor="middle" font-weight="normal" fill="#222" letter-spacing="0.5">150</text>
<text x="453.30" y="440.60" font-size="10.2" text-anchor="start" font-weight="normal" fill="#1a1a1a" >Mb</text>
<text x="315.40" y="452.80" font-size="10.4" text-anchor="start" font-weight="normal" fill="#1a1a1a" >Physical distance (Mb)</text>
<text x="-1.80" y="13.00" font-size="18.5" text-anchor="start" font-weight="bold" fill="#000" >a</text>
<text x="225.80" y="13.00" font-size="18.5" text-anchor="start" font-weight="bold" fill="#000" >b</text>
<text x="500.40" y="13.00" font-size="18.5" text-anchor="start" font-weight="bold" fill="#000" >c</text>
<text x="-1.20" y="254.10" font-size="18.5" text-anchor="start" font-weight="bold" fill="#000" >d</text>
<text x="225.80" y="254.20" font-size="18.5" text-anchor="start" font-weight="bold" fill="#000" >e</text>
<text x="499.60" y="254.40" font-size="18.5" text-anchor="start" font-weight="bold" fill="#000" >f</text>
</g></svg>
</body></html>
